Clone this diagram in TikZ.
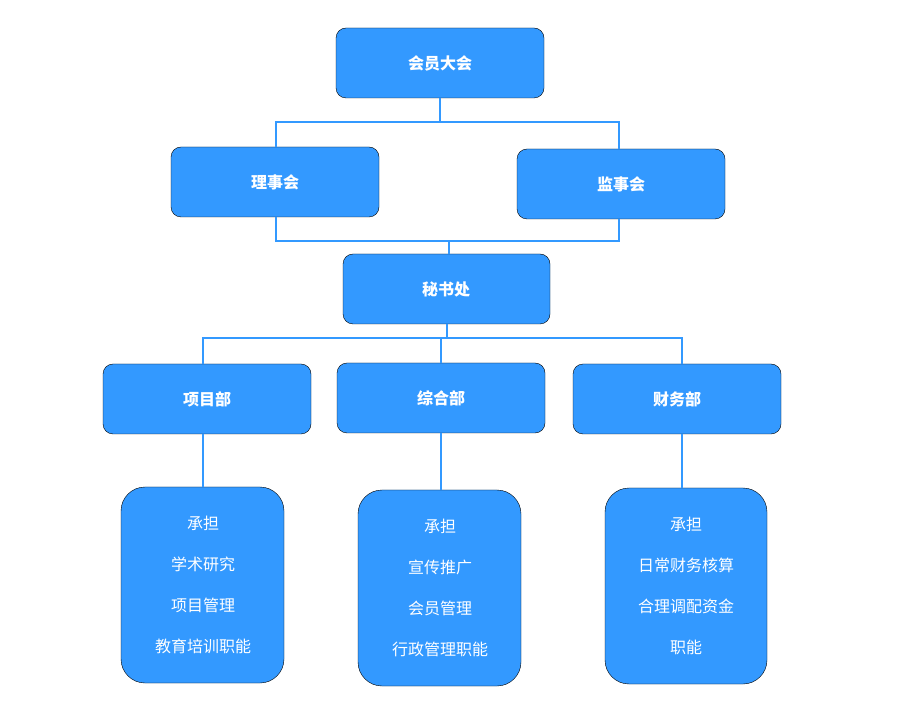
\documentclass[tikz,border=0pt]{standalone}
\usepackage{fontspec}
\setmainfont{Noto Sans CJK SC}
\definecolor{bx}{HTML}{3399FF}
\begin{document}
\begin{tikzpicture}[x=1pt,y=-1pt,
  hd/.style={fill=bx,rounded corners=10pt},
  bd/.style={fill=bx,rounded corners=24pt},
  ht/.style={text=white,font=\fontsize{16}{20}\selectfont\bfseries},
  bt/.style={text=white,font=\fontsize{16}{41}\selectfont,align=center},
  ln/.style={draw=bx,line width=1.6pt}]
\useasboundingbox (0,0) rectangle (900,708);
\draw[hd] (336,28) rectangle (544,98); \node[ht] (a) at (440,63) {会员大会};
\draw[hd] (171,147) rectangle (379,217); \node[ht] (b) at (275,182) {理事会};
\draw[hd] (517,149) rectangle (725,219); \node[ht] (c) at (621,184) {监事会};
\draw[hd] (343,254) rectangle (550,324); \node[ht] (d) at (446,289) {秘书处};
\draw[hd] (103,364) rectangle (311,434); \node[ht] (e) at (207,399) {项目部};
\draw[hd] (337,363) rectangle (545,433); \node[ht] (f) at (441,398) {综合部};
\draw[hd] (573,364) rectangle (781,434); \node[ht] (g) at (677,399) {财务部};
\draw[bd] (121,487) rectangle (284,683); \node[bt] (h) at (203,585) {承担\\学术研究\\项目管理\\教育培训职能};
\draw[bd] (358,490) rectangle (521,686); \node[bt] (i) at (440,588) {承担\\宣传推广\\会员管理\\行政管理职能};
\draw[bd] (605,488) rectangle (767,684); \node[bt] (j) at (686,586) {承担\\日常财务核算\\合理调配资金\\职能};
\draw[ln] (440,98) -- (440,122) (276,147) -- (276,122) -- (619,122) -- (619,149);
\draw[ln] (276,217) -- (276,241) -- (619,241) -- (619,219) (449,241) -- (449,254);
\draw[ln] (447,324) -- (447,338) (203,364) -- (203,338) -- (682,338) -- (682,364) (441,338) -- (441,363);
\draw[ln] (203,434) -- (203,487) (441,433) -- (441,490) (682,434) -- (682,488);
\end{tikzpicture}
\end{document}
